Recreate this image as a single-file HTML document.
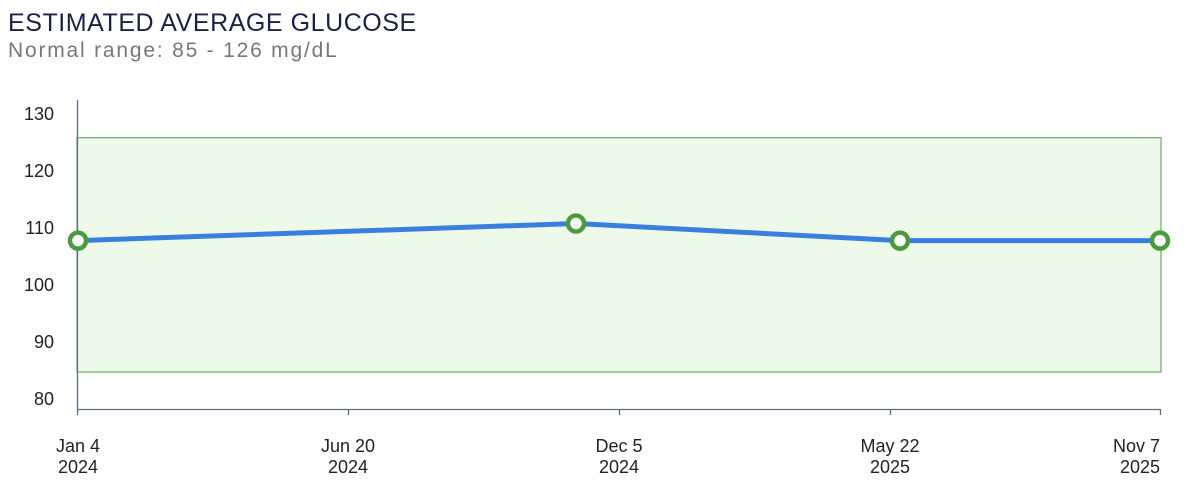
<!DOCTYPE html>
<html><head><meta charset="utf-8"><style>
body{margin:0;background:#fff;width:1200px;height:499px;overflow:hidden;font-family:"Liberation Sans",sans-serif}
</style></head><body>
<svg width="1200" height="499" xmlns="http://www.w3.org/2000/svg" font-family="Liberation Sans, sans-serif">
<text x="8" y="31" font-size="25" letter-spacing="0.55" fill="#1b2045">ESTIMATED AVERAGE GLUCOSE</text>
<text x="8" y="57" font-size="21" letter-spacing="1.8" fill="#777">Normal range: 85 - 126 mg/dL</text>
<rect x="77" y="137.7" width="1084" height="234.3" fill="#edfaea" stroke="#6aaa6a" stroke-width="1.2"/>
<line x1="77.5" y1="100" x2="77.5" y2="415" stroke="#5a6f86" stroke-width="1.3"/>
<line x1="77" y1="409.5" x2="1161" y2="409.5" stroke="#5a6f86" stroke-width="1.3"/>
<g stroke="#5a6f86" stroke-width="1.3">
<line x1="348.5" y1="409" x2="348.5" y2="415"/><line x1="619.5" y1="409" x2="619.5" y2="415"/>
<line x1="890.5" y1="409" x2="890.5" y2="415"/><line x1="1160.5" y1="409" x2="1160.5" y2="415"/>
</g>
<g font-size="18" fill="#222" text-anchor="end">
<text x="54" y="120">130</text><text x="54" y="177">120</text><text x="54" y="234">110</text>
<text x="54" y="291">100</text><text x="54" y="348">90</text><text x="54" y="405">80</text>
</g>
<g font-size="18" fill="#222" text-anchor="middle">
<text x="78" y="452">Jan 4</text><text x="78" y="473">2024</text>
<text x="348" y="452">Jun 20</text><text x="348" y="473">2024</text>
<text x="619" y="452">Dec 5</text><text x="619" y="473">2024</text>
<text x="890" y="452">May 22</text><text x="890" y="473">2025</text>
</g>
<g font-size="18" fill="#222" text-anchor="end">
<text x="1160" y="452">Nov 7</text><text x="1160" y="473">2025</text>
</g>
<polyline points="78,240.6 576,223.5 900,240.6 1160,240.6" fill="none" stroke="#3a7fe0" stroke-width="5" stroke-linejoin="round"/>
<g fill="#fff" stroke="#4a9a3e" stroke-width="4.5">
<circle cx="78" cy="240.6" r="8"/><circle cx="576" cy="223.5" r="8"/>
<circle cx="900" cy="240.6" r="8"/><circle cx="1160" cy="240.6" r="8"/>
</g>
</svg>
</body></html>
